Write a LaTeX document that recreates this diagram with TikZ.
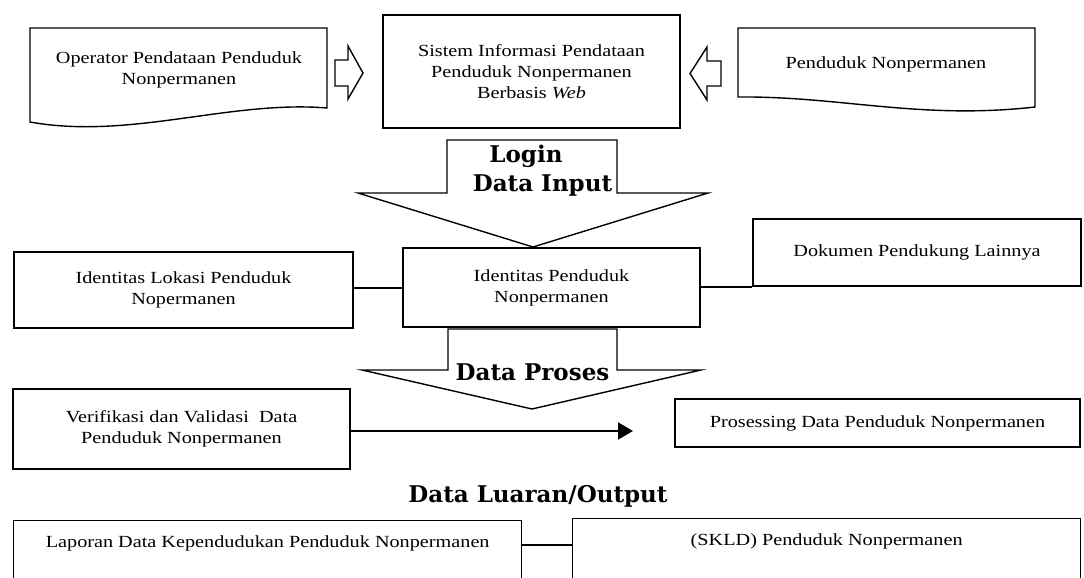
\documentclass[tikz,border=0pt]{standalone}
\usepackage{fontspec}
\setmainfont[FakeStretch=1.19]{Liberation Serif}
\newfontfamily\headfont{DejaVu Serif}
\usetikzlibrary{arrows.meta}
\tikzset{
	box/.style={draw, line width=1.4pt, align=center, inner sep=0pt, font=\fontsize{17}{21}\selectfont},
	cutbox/.style={box, anchor=north west, text height=27pt, text depth=50pt},
	txt/.style={align=center, font=\fontsize{17}{21}\selectfont},
	doc/.style={line width=1.4pt},
	blk/.style={line width=1.4pt, line join=miter},
	head/.style={anchor=base, inner sep=0pt, font=\headfont\bfseries\fontsize{23}{26}\selectfont},
	link/.style={line width=2pt}
}

\begin{document}
\begin{tikzpicture}[x=1pt,y=-1pt]
			%%%%% START %%%%%
			\useasboundingbox (0,0) rectangle (1084,578);
			\clip (0,0) rectangle (1084,578);
			
			% sumber data
			\draw[doc] (30,28) -- (327,28) -- (327,108) .. controls (230,100) and (130,140) .. (30,122) -- cycle;
			\node[txt] (oper) at (179,70) {Operator Pendataan Penduduk\\Nonpermanen};
			
			\draw[doc] (738,28) -- (1035,28) -- (1035,107) .. controls (920,120) and (840,96) .. (738,97) -- cycle;
			\node[txt] (pend) at (886,64) {Penduduk Nonpermanen};
			
			\node[box, minimum width=297pt, minimum height=113pt] (sis) at (531.5,71.5) {Sistem Informasi Pendataan\\Penduduk Nonpermanen\\Berbasis \textit{Web}};
			
			\draw[blk] (335,60) -- (348,60) -- (348,46) -- (363,73) -- (348,99) -- (348,86) -- (335,86) -- cycle;
			\draw[blk] (721,61) -- (707,61) -- (707,47) -- (690,73.5) -- (707,100) -- (707,86) -- (721,86) -- cycle;
			
			% input
			\draw[blk] (447,140) -- (617,140) -- (617,193) -- (708,193) -- (533,247) -- (358,193) -- (447,193) -- cycle;
			\node[head] (login) at (526,162) {Login};
			\node[head] (input) at (542.5,191) {Data Input};
			
			\node[box, minimum width=339pt, minimum height=76pt] (lok) at (183.5,290) {Identitas Lokasi Penduduk\\Nopermanen};
			\node[box, minimum width=297pt, minimum height=79pt] (idn) at (551.5,287.5) {Identitas Penduduk\\Nonpermanen};
			\node[box, minimum width=328pt, minimum height=67pt] (dok) at (917,252.5) {Dokumen Pendukung Lainnya};
			
			\draw[link] (idn.west -| lok.east) -- (idn.west);
			\draw[link] (idn.east |- dok.south) -- (dok.south west);
			
			% proses
			\draw[blk] (448,329) -- (617,329) -- (617,370) -- (701,370) -- (532,409) -- (362,370) -- (448,370) -- cycle;
			\node[head] (proses) at (532.5,380) {Data Proses};
			
			\node[box, minimum width=337pt, minimum height=80pt] (ver) at (181.5,429) {Verifikasi dan Validasi\ \ Data\\Penduduk Nonpermanen};
			\node[box, minimum width=405pt, minimum height=48pt] (pro) at (877.5,423) {Prosessing Data Penduduk Nonpermanen};
			
			\coordinate (verend) at (633,431);
			\draw[link, -{Triangle[length=15pt,width=17pt]}] (ver.east |- verend) -- (verend);
			
			% output
			\node[head] (luaran) at (538,502) {Data Luaran/Output};
			\node[cutbox, minimum width=508pt] (lap) at (13,520) {Laporan Data Kependudukan Penduduk Nonpermanen};
			\node[cutbox, minimum width=508pt] (skld) at (572,518) {(SKLD) Penduduk Nonpermanen};
			
			\draw[link] (lap.mid east) -- (lap.mid east -| skld.west);
			
			%%%%% END %%%%%
\end{tikzpicture}
\end{document}
